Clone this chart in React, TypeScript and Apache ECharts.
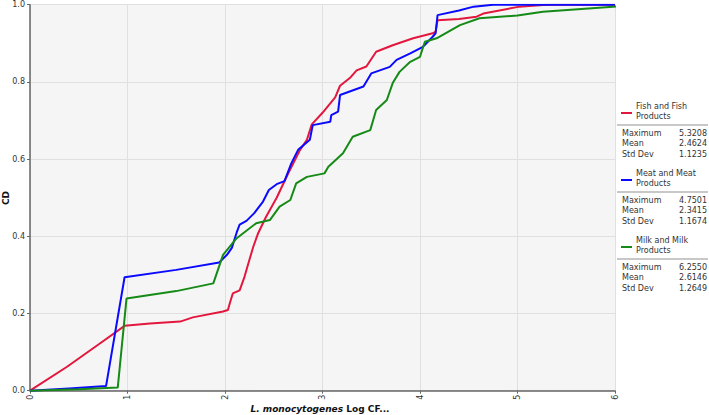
import React, { useEffect, useRef } from "react";
import * as echarts from "echarts";

const fishX = [0, 0.38, 0.72, 0.97, 1.23, 1.54, 1.67, 1.98, 2.03, 2.05, 2.08, 2.15, 2.2, 2.24, 2.29, 2.34, 2.42, 2.53, 2.65, 2.77, 2.84, 2.89, 3.0, 3.13, 3.18, 3.28, 3.35, 3.45, 3.55, 3.72, 3.93, 4.13, 4.16, 4.18, 4.4, 4.58, 4.65, 5.02, 5.26, 5.32, 6.0];
const fishY = [0, 0.062, 0.123, 0.168, 0.174, 0.179, 0.19, 0.205, 0.209, 0.227, 0.252, 0.26, 0.295, 0.33, 0.373, 0.408, 0.45, 0.5, 0.564, 0.624, 0.65, 0.69, 0.72, 0.76, 0.79, 0.81, 0.83, 0.84, 0.878, 0.895, 0.913, 0.926, 0.93, 0.96, 0.963, 0.969, 0.977, 0.995, 0.999, 1.0, 1.0];

const meatX = [0, 0.4, 0.78, 0.97, 1.5, 1.94, 2.02, 2.07, 2.12, 2.15, 2.22, 2.3, 2.39, 2.45, 2.53, 2.61, 2.68, 2.75, 2.87, 2.9, 3.08, 3.09, 3.16, 3.18, 3.42, 3.5, 3.69, 3.76, 3.9, 4.03, 4.13, 4.16, 4.18, 4.4, 4.55, 4.75, 6.0];
const meatY = [0, 0.006, 0.012, 0.294, 0.313, 0.332, 0.352, 0.37, 0.41, 0.43, 0.44, 0.46, 0.49, 0.52, 0.535, 0.543, 0.589, 0.624, 0.65, 0.688, 0.697, 0.714, 0.723, 0.766, 0.788, 0.822, 0.839, 0.857, 0.874, 0.891, 0.917, 0.926, 0.973, 0.985, 0.995, 1.0, 1.0];

const milkX = [0, 0.5, 0.9, 0.99, 1.5, 1.88, 1.98, 2.12, 2.32, 2.46, 2.56, 2.67, 2.73, 2.84, 3.02, 3.06, 3.21, 3.31, 3.49, 3.55, 3.66, 3.72, 3.79, 3.9, 4.0, 4.05, 4.17, 4.41, 4.61, 5.0, 5.26, 5.98, 6.255];
const milkY = [0, 0.004, 0.008, 0.239, 0.258, 0.278, 0.352, 0.395, 0.434, 0.442, 0.477, 0.494, 0.537, 0.554, 0.563, 0.58, 0.615, 0.658, 0.675, 0.727, 0.753, 0.797, 0.826, 0.852, 0.865, 0.904, 0.913, 0.947, 0.965, 0.972, 0.982, 0.995, 1.0];

const seriesNames = ["Fish and Fish\nProducts", "Meat and Meat\nProducts", "Milk and Milk\nProducts"];
const seriesColors = ["#e3173e", "#0a0aff", "#168a16"];
const statLabels = ["Maximum", "Mean", "Std Dev"];
const fishStats = ["5.3208", "2.4624", "1.1235"];
const meatStats = ["4.7501", "2.3415", "1.1674"];
const milkStats = ["6.2550", "2.6146", "1.2649"];
const yTitle = "CD";
const xTitleItalic = "L. monocytogenes";
const xTitleRest = "Log CF...";

const FONT = "DejaVu Sans";

export default function App() {
  const ref = useRef<HTMLDivElement>(null);
  useEffect(() => {
    if (!ref.current) return;
    const chart = echarts.init(ref.current, null, { renderer: "svg" });
    const zip = (xs: number[], ys: number[]) => xs.map((x, i) => [x, ys[i]]);
    const allStats = [fishStats, meatStats, milkStats];
    const graphics: any[] = [];
    seriesNames.forEach((name, k) => {
      const d = 67 * k;
      graphics.push({
        type: "line",
        shape: { x1: 621, y1: 113 + d, x2: 632, y2: 113 + d },
        style: { stroke: seriesColors[k], lineWidth: 2 },
      });
      graphics.push({
        type: "text",
        x: 636,
        y: 101 + d,
        style: { text: name, font: `8px "${FONT}"`, fill: "#333", lineHeight: 10.5, textVerticalAlign: "top" },
      });
      graphics.push({
        type: "line",
        shape: { x1: 617, y1: 125 + d, x2: 708, y2: 125 + d },
        style: { stroke: "#c8c8c8", lineWidth: 2 },
      });
      statLabels.forEach((lab, j) => {
        const y = 133 + d + j * 10.5;
        graphics.push({
          type: "text",
          x: 622,
          y,
          style: { text: lab, font: `8px "${FONT}"`, fill: "#333", textVerticalAlign: "middle" },
        });
        graphics.push({
          type: "text",
          x: 707,
          y,
          style: { text: allStats[k][j], font: `8px "${FONT}"`, fill: "#333", textAlign: "right", textVerticalAlign: "middle" },
        });
      });
    });
    graphics.push({
      type: "text",
      x: 6,
      y: 198,
      rotation: Math.PI / 2,
      style: { text: yTitle, font: `bold 9px "${FONT}"`, fill: "#111", textAlign: "center", textVerticalAlign: "middle" },
    });
    graphics.push({
      type: "text",
      x: 320,
      y: 409,
      style: {
        text: `{i|${xTitleItalic}} {b|${xTitleRest}}`,
        textAlign: "center",
        textVerticalAlign: "middle",
        rich: {
          i: { fontFamily: FONT, fontSize: 9, fontWeight: "bold", fontStyle: "italic", fill: "#111" },
          b: { fontFamily: FONT, fontSize: 9, fontWeight: "bold", fill: "#111" },
        },
      },
    });

    chart.setOption({
      animation: false,
      textStyle: { fontFamily: FONT },
      grid: {
        left: 30,
        right: 94,
        top: 4.7,
        bottom: 24.3,
        show: true,
        backgroundColor: "#f5f5f5",
        borderWidth: 0,
        containLabel: false,
        outerBoundsMode: "none",
      },
      xAxis: {
        type: "value",
        min: 0,
        max: 6,
        interval: 1,
        axisLine: { show: true, onZero: false, lineStyle: { color: "#666", width: 1.5 } },
        axisTick: { show: true, length: 3, lineStyle: { color: "#666" } },
        axisLabel: { rotate: 90, fontSize: 8, color: "#333", margin: 4 },
        splitLine: { show: true, lineStyle: { color: "#e0e0e0", width: 1 } },
      },
      yAxis: {
        type: "value",
        min: 0,
        max: 1,
        interval: 0.2,
        axisLine: { show: true, onZero: false, lineStyle: { color: "#666", width: 1.5 } },
        axisTick: { show: true, length: 3, lineStyle: { color: "#666" } },
        axisLabel: { fontSize: 8, color: "#333", margin: 5, formatter: (v: number) => v.toFixed(1) },
        splitLine: { show: true, lineStyle: { color: "#e0e0e0", width: 1 } },
      },
      series: [
        { type: "line", name: "Fish", data: zip(fishX, fishY), showSymbol: false, lineStyle: { color: seriesColors[0], width: 2 }, itemStyle: { color: seriesColors[0] } },
        { type: "line", name: "Meat", data: zip(meatX, meatY), showSymbol: false, lineStyle: { color: seriesColors[1], width: 2 }, itemStyle: { color: seriesColors[1] } },
        { type: "line", name: "Milk", data: zip(milkX, milkY), showSymbol: false, lineStyle: { color: seriesColors[2], width: 2 }, itemStyle: { color: seriesColors[2] } },
      ],
      graphic: graphics,
    });
    return () => chart.dispose();
  }, []);
  return <div ref={ref} style={{ position: "absolute", left: 0, top: 0, width: 709, height: 415 }} />;
}
